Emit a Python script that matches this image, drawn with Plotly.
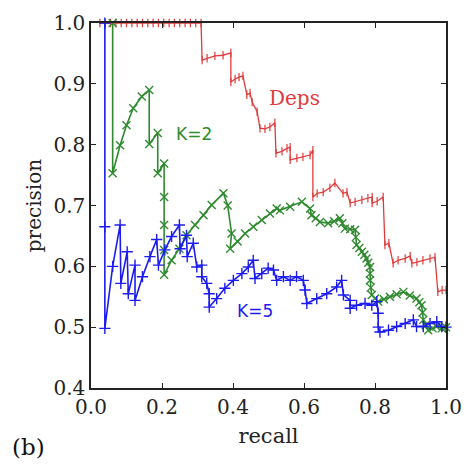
import plotly.graph_objects as go

deps_recall = [0.025, 0.04, 0.055, 0.07, 0.085, 0.10, 0.115, 0.13, 0.145, 0.16, 0.175, 0.19,
               0.205, 0.22, 0.235, 0.25, 0.265, 0.28, 0.295, 0.31,
               0.313, 0.327, 0.349, 0.372, 0.394, 0.394, 0.406, 0.417, 0.428, 0.439, 0.448,
               0.454, 0.468, 0.476, 0.490, 0.504, 0.518, 0.521, 0.538, 0.552, 0.561, 0.561,
               0.580, 0.597, 0.617, 0.625, 0.625, 0.637, 0.654, 0.673, 0.687, 0.710, 0.721,
               0.730, 0.744, 0.763, 0.780, 0.792, 0.792, 0.806, 0.823, 0.828, 0.839, 0.851,
               0.865, 0.885, 0.899, 0.904, 0.918, 0.935, 0.955, 0.969, 0.977, 0.989, 1.0]
deps_precision = [1.0, 1.0, 1.0, 1.0, 1.0, 1.0, 1.0, 1.0, 1.0, 1.0, 1.0, 1.0,
                  1.0, 1.0, 1.0, 1.0, 1.0, 1.0, 1.0, 1.0,
                  0.939, 0.942, 0.946, 0.947, 0.951, 0.903, 0.908, 0.911, 0.913, 0.882, 0.885,
                  0.870, 0.854, 0.827, 0.826, 0.829, 0.836, 0.786, 0.789, 0.794, 0.796, 0.775,
                  0.778, 0.780, 0.783, 0.791, 0.714, 0.720, 0.722, 0.729, 0.737, 0.720, 0.722,
                  0.704, 0.706, 0.709, 0.712, 0.714, 0.704, 0.707, 0.714, 0.635, 0.638, 0.605,
                  0.610, 0.613, 0.617, 0.605, 0.607, 0.610, 0.613, 0.615, 0.558, 0.561, 0.561]

k2_recall = [0.061, 0.061, 0.082, 0.100, 0.119, 0.143, 0.164, 0.164, 0.188, 0.188, 0.206,
             0.206, 0.206, 0.206, 0.206, 0.227, 0.249, 0.269, 0.293, 0.317, 0.340, 0.373,
             0.385, 0.396, 0.392, 0.413, 0.434, 0.457, 0.481, 0.504, 0.523, 0.532, 0.561,
             0.594, 0.617, 0.621, 0.633, 0.645, 0.668, 0.685, 0.701, 0.708, 0.715, 0.730,
             0.744, 0.746, 0.748, 0.756, 0.763, 0.770, 0.776, 0.781, 0.786, 0.786, 0.786,
             0.788, 0.791, 0.800, 0.809, 0.825, 0.842, 0.861, 0.880, 0.898, 0.917, 0.925,
             0.931, 0.934, 0.936, 0.943, 0.950, 0.962, 0.973, 0.988, 1.0]
k2_precision = [1.0, 0.753, 0.799, 0.832, 0.860, 0.879, 0.890, 0.801, 0.819, 0.753, 0.769,
                0.714, 0.668, 0.627, 0.586, 0.610, 0.629, 0.651, 0.668, 0.684, 0.701, 0.720,
                0.700, 0.654, 0.629, 0.641, 0.654, 0.665, 0.676, 0.687, 0.695, 0.692, 0.698,
                0.706, 0.695, 0.684, 0.679, 0.673, 0.671, 0.674, 0.679, 0.671, 0.662, 0.661,
                0.660, 0.648, 0.635, 0.630, 0.624, 0.619, 0.613, 0.606, 0.599, 0.588, 0.577,
                0.565, 0.553, 0.547, 0.542, 0.546, 0.550, 0.554, 0.558, 0.552, 0.547, 0.541,
                0.536, 0.524, 0.512, 0.503, 0.495, 0.498, 0.501, 0.498, 0.500]

k5_recall = [0.039, 0.039, 0.039, 0.061, 0.082, 0.084, 0.102, 0.105, 0.124, 0.124, 0.145,
             0.166, 0.185, 0.190, 0.208, 0.227, 0.249, 0.251, 0.269, 0.271, 0.288, 0.298,
             0.312, 0.312, 0.326, 0.333, 0.333, 0.354, 0.377, 0.401, 0.425, 0.443, 0.457,
             0.462, 0.481, 0.499, 0.514, 0.523, 0.542, 0.561, 0.579, 0.598, 0.603, 0.608,
             0.636, 0.664, 0.692, 0.706, 0.711, 0.730, 0.730, 0.748, 0.772, 0.791, 0.805,
             0.809, 0.809, 0.814, 0.838, 0.861, 0.885, 0.908, 0.917, 0.936, 0.955, 0.974,
             0.988, 1.0]
k5_precision = [1.0, 0.665, 0.498, 0.600, 0.668, 0.572, 0.624, 0.555, 0.602, 0.544, 0.583,
                0.616, 0.644, 0.602, 0.627, 0.649, 0.668, 0.629, 0.651, 0.616, 0.638, 0.599,
                0.602, 0.583, 0.572, 0.555, 0.533, 0.547, 0.564, 0.577, 0.588, 0.599, 0.610,
                0.580, 0.588, 0.597, 0.594, 0.577, 0.583, 0.577, 0.583, 0.577, 0.561, 0.539,
                0.547, 0.555, 0.566, 0.577, 0.553, 0.544, 0.531, 0.536, 0.539, 0.536, 0.542,
                0.523, 0.500, 0.492, 0.495, 0.501, 0.506, 0.512, 0.501, 0.501, 0.506, 0.509,
                0.501, 0.500]

x_ticks = [0.0, 0.2, 0.4, 0.6, 0.8, 1.0]
y_ticks = [0.4, 0.5, 0.6, 0.7, 0.8, 0.9, 1.0]

RED = "#e03a3a"
GREEN = "#2f8a2f"
BLUE = "#1c1cf0"
SERIF = "DejaVu Serif"

fig = go.Figure()
fig.add_trace(go.Scatter(
    x=deps_recall, y=deps_precision, mode="lines+markers", cliponaxis=False,
    line=dict(color=RED, width=1.3, shape="linear"),
    marker=dict(symbol="line-ns", size=6, color=RED, line=dict(color=RED, width=1.2)),
    showlegend=False))
fig.add_trace(go.Scatter(
    x=k2_recall, y=k2_precision, mode="lines+markers", cliponaxis=False,
    line=dict(color=GREEN, width=1.6),
    marker=dict(symbol="x-thin", size=8, color=GREEN, line=dict(color=GREEN, width=1.4)),
    showlegend=False))
fig.add_trace(go.Scatter(
    x=k5_recall, y=k5_precision, mode="lines+markers", cliponaxis=False,
    line=dict(color=BLUE, width=1.6),
    marker=dict(symbol="cross-thin", size=8, color=BLUE, line=dict(color=BLUE, width=1.4)),
    showlegend=False))

fig.add_annotation(x=0.572, y=0.877, text="Deps", showarrow=False,
                   font=dict(family=SERIF, size=20, color=RED))
fig.add_annotation(x=0.290, y=0.817, text="K=2", showarrow=False,
                   font=dict(family="DejaVu Sans", size=17, color=GREEN))
fig.add_annotation(x=0.462, y=0.526, text="K=5", showarrow=False,
                   font=dict(family="DejaVu Sans", size=17, color=BLUE))
fig.add_annotation(x=-0.175, y=-0.162, xref="paper", yref="paper", text="(b)",
                   xanchor="center", yanchor="middle",
                   showarrow=False, font=dict(family=SERIF, size=23, color="#111"))

axis_common = dict(showgrid=False, zeroline=False, showline=True, linecolor="#222",
                   linewidth=1.5, mirror="ticks", ticks="inside", ticklen=5,
                   tickcolor="#222", tickwidth=1, automargin=False,
                   tickfont=dict(family=SERIF, size=20, color="#222"))
fig.update_xaxes(range=[0.0, 1.0], tickvals=x_ticks,
                 ticktext=[f"{v:.1f}" for v in x_ticks],
                 title=dict(text="recall", font=dict(family=SERIF, size=21, color="#222"), standoff=11),
                 **axis_common)
fig.update_yaxes(range=[0.4, 1.0], tickvals=y_ticks,
                 ticktext=[f"{v:.1f}" for v in y_ticks],
                 title=dict(text="precision", font=dict(family=SERIF, size=20, color="#222"), standoff=6),
                 **axis_common)

fig.update_layout(width=470, height=472, plot_bgcolor="white", paper_bgcolor="white",
                  margin=dict(l=91, r=24, t=23, b=84))
fig.write_html("out.html", config={"displayModeBar": False},
               post_script="document.body.style.margin='0';")
